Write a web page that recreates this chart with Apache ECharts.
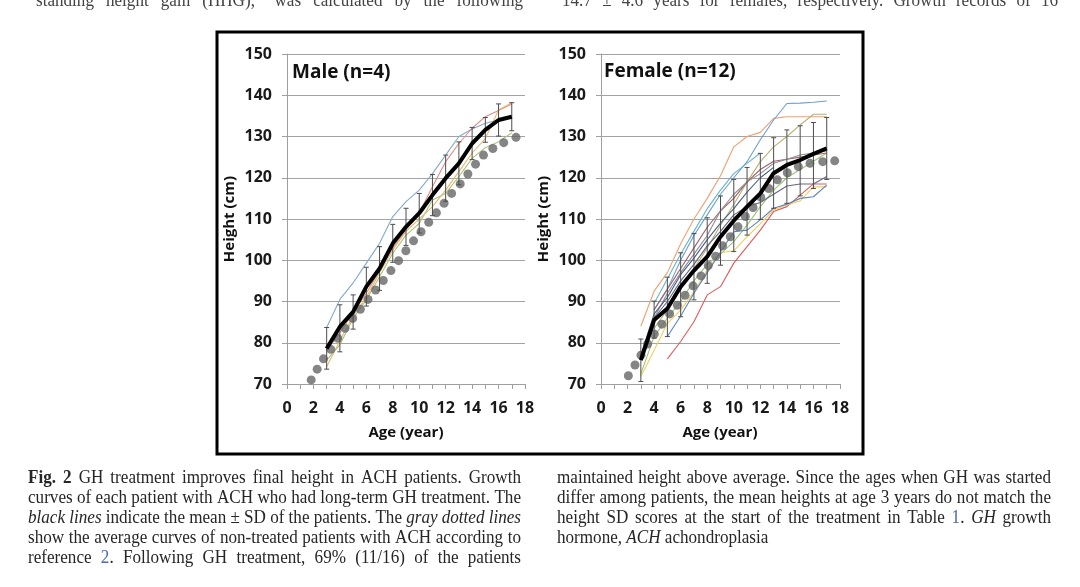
<!DOCTYPE html>
<html><head><meta charset="utf-8">
<script src="https://cdn.jsdelivr.net/npm/echarts@6/dist/echarts.min.js"></script>
<style>html,body{margin:0;padding:0;background:#fff}#c{width:1080px;height:587px}</style>
</head><body><div id="c"></div><script>
// ---------------- DATA ----------------
const ages = [3,4,5,6,7,8,9,10,11,12,13,14,15,16,17];
const xTickLabels = [0,2,4,6,8,10,12,14,16,18];
const yTickLabels = [70,80,90,100,110,120,130,140,150];

// Male (n=4)
const maleMean    = [78.6, 83.9, 87.5, 93.6, 98.0, 104.1, 108.1, 111.4, 115.8, 119.9, 123.5, 128.3, 131.6, 134.0, 134.8];
const maleSdUpper = [83.7, 89.2, 91.6, 98.3, 103.3, 108.7, 112.6, 116.2, 120.8, 125.5, 128.7, 132.2, 134.6, 137.9, 138.2];
const maleSdLower = [73.6, 77.8, 83.3, 88.9, 92.7, 99.5, 103.6, 106.6, 110.8, 114.3, 118.3, 124.4, 128.6, 130.1, 131.4];
const malePatientA = [83.7, 90.5, 94.5, 99.3, 104.1, 110.6, 114.2, 117.0, 121.0, 125.5, 130.0, 131.8, 133.2, 134.0, null];
const malePatientB = [78.0, 82.5, 87.2, 92.0, 97.5, 103.0, 107.5, 111.5, 117.8, 123.9, 128.3, 132.0, 134.8, 136.3, 137.9];
const malePatientC = [75.8, 79.5, 85.9, 90.4, 96.0, 101.7, 106.1, 108.9, 114.6, 116.2, 120.3, 124.7, 127.3, 128.7, 130.9];
const malePatientD = [74.2, 80.5, 86.5, 91.0, 97.0, 102.5, 107.0, 110.0, 113.0, 117.0, 121.5, 126.0, 129.5, 136.4, 138.2];
const maleRefAges    = [1.83, 2.28, 2.76, 3.31, 3.84, 4.39, 4.97, 5.55, 6.13, 6.70, 7.28, 7.86, 8.44, 8.99, 9.57, 10.14, 10.72, 11.30, 11.88, 12.45, 13.10, 13.68, 14.26, 14.86, 15.57, 16.39, 17.32];
const maleRefHeights = [71.0, 73.6, 76.1, 78.4, 81.1, 83.5, 85.9, 88.1, 90.5, 92.8, 95.1, 97.5, 99.9, 102.3, 104.7, 106.9, 109.2, 111.5, 113.8, 116.2, 118.5, 120.9, 123.3, 125.5, 127.1, 128.5, 129.8];

// Female (n=12)
const femaleMean    = [75.8, 85.5, 88.3, 93.6, 97.5, 100.9, 105.7, 109.6, 113.0, 116.2, 121.1, 123.1, 124.3, 125.8, 127.1];
const femaleSdUpper = [80.9, 90.1, 95.9, 101.8, 106.5, 110.3, 115.6, 119.6, 122.5, 125.9, 129.7, 131.6, 132.6, 133.4, 134.6];
const femaleSdLower = [70.6, 81.1, 81.5, 86.3, 90.4, 94.4, 98.8, 102.1, 106.1, 109.9, 112.6, 113.8, 115.6, 117.4, 119.6];
const femalePatient1  = [84.0, 92.5, 97.0, 104.0, 110.0, 115.0, 120.5, 127.5, 130.0, 131.0, 134.4, 134.8, 134.8, 134.8, 134.8];
const femalePatient2  = [null, 88.0, 93.0, 100.0, 106.0, 111.0, 116.0, 120.0, 123.9, 129.2, 134.0, 138.0, 138.1, 138.3, 138.6];
const femalePatient3  = [null, 83.5, 88.0, 93.0, 98.0, 103.0, 108.5, 113.5, 119.0, 123.9, 127.5, 130.0, 132.8, 135.4, 135.4];
const femalePatient4  = [null, null, 76.1, 80.3, 85.1, 91.6, 93.6, 99.3, 103.3, 107.3, 111.8, 113.0, 115.8, 118.5, 118.5];
const femalePatient5  = [71.8, 78.2, 84.7, 87.9, 92.4, 97.6, 101.8, 102.3, 105.7, 108.9, 112.2, 113.4, 114.4, 117.8, 117.8];
const femalePatient6  = [72.5, 81.5, 86.0, 90.0, 95.0, 99.0, 101.5, 104.5, 108.5, 113.0, 117.0, 120.0, 122.0, 124.0, 126.0];
const femalePatient7  = [null, null, 81.5, 86.5, 92.0, 97.0, 102.0, 106.9, 107.3, 109.8, 112.6, 113.6, 115.0, 115.4, 118.2];
const femalePatient8  = [null, 86.0, 90.0, 95.0, 99.0, 103.5, 107.0, 111.0, 113.0, 114.0, 116.0, 118.0, 118.5, 118.5, 120.3];
const femalePatient9  = [null, 88.0, 93.0, 98.0, 103.0, 108.0, 112.0, 115.0, 119.0, 122.0, 124.0, 124.5, 125.0, 125.5, 126.0];
const femalePatient10 = [null, 86.0, 92.0, 97.0, 101.5, 106.0, 112.0, 116.0, 119.0, 121.0, 123.5, 124.5, 125.5, 126.0, 126.5];
const femalePatient11 = [null, 89.5, 95.5, 101.5, 107.0, 112.5, 117.0, 121.0, 123.5, 126.0, null, null, null, null, null];
const femalePatient12 = [77.0, 87.0, 91.0, 96.5, 100.5, 105.0, 109.0, 112.5, 116.5, 120.0, 122.5, null, null, null, null];
const femaleRefAges    = [2.06, 2.56, 3.01, 3.51, 4.02, 4.59, 5.17, 5.75, 6.33, 6.93, 7.53, 8.08, 8.64, 9.16, 9.74, 10.32, 10.87, 11.45, 12.03, 12.63, 13.28, 14.03, 14.86, 15.74, 16.70, 17.60];
const femaleRefHeights = [72.0, 74.6, 77.0, 79.7, 82.1, 84.5, 87.0, 89.1, 91.5, 93.8, 96.2, 98.7, 101.0, 103.5, 105.7, 108.1, 110.6, 112.8, 115.3, 117.4, 119.5, 121.2, 122.7, 123.5, 123.9, 124.1];

// Texts
const maleTitle = 'Male (n=4)';
const femaleTitle = 'Female (n=12)';
const yAxisName = 'Height (cm)';
const xAxisName = 'Age (year)';
const captionLeft = [
  '*Fig. 2*  GH treatment improves final height in ACH patients. Growth',
  'curves of each patient with ACH who had long-term GH treatment. The',
  '_black lines_ indicate the mean ± SD of the patients. The _gray dotted lines_',
  'show the average curves of non-treated patients with ACH according to',
  'reference ^2^. Following GH treatment, 69% (11/16) of the patients'
];
const captionRight = [
  'maintained height above average. Since the ages when GH was started',
  'differ among patients, the mean heights at age 3 years do not match the',
  'height SD scores at the start of the treatment in Table ^1^. _GH_ growth',
  'hormone, _ACH_ achondroplasia'
];
const topLeftText = 'standing height gain (HHG),” was calculated by the following';
const topRightText = '14.7 ± 4.6 years for females, respectively. Growth records of 16';

// ---------------- BUILD ----------------
const SANS = '"Open Sans", "DejaVu Sans", sans-serif';
const SERIF = '"Liberation Serif", "Times New Roman", serif';
const maleColors = ['#86a9c9', '#e08a8a', '#aac47e', '#e6b872'];
const femaleColors = ['#f0a070','#6c9fd2','#b9b276','#e05a5a','#f0cf60','#9cc57a','#5a84c0','#676784','#a0606e','#8e8e8e','#6ab3c6','#4a5f8e'];

const pair = (xs, ys) => xs.map((x, i) => [x, ys[i]]);

function axesFor(gi) {
  return {
    x: {
      type: 'value', gridIndex: gi, min: 0, max: 18, interval: 1,
      axisLine: { show: true, lineStyle: { color: '#9f9f9f', width: 1 } },
      axisTick: { show: true, length: 5, inside: false, lineStyle: { color: '#9f9f9f' } },
      axisLabel: { show: true, margin: 16, color: '#1a1a1a', fontFamily: SANS, fontWeight: 'bold', fontSize: 16,
        formatter: v => xTickLabels.indexOf(v) >= 0 ? String(v) : '' },
      splitLine: { show: false }
    },
    y: {
      type: 'value', gridIndex: gi, min: 70, max: 150, interval: 10,
      axisLine: { show: true, lineStyle: { color: '#9f9f9f', width: 1 } },
      axisTick: { show: true, length: 5, inside: false, lineStyle: { color: '#9f9f9f' } },
      axisLabel: { show: true, margin: 15, color: '#1a1a1a', fontFamily: SANS, fontWeight: 'bold', fontSize: 16,
        formatter: v => yTickLabels.indexOf(v) >= 0 ? String(v) : '' },
      splitLine: { show: true, lineStyle: { color: '#a3a3a3', width: 1 } }
    }
  };
}
const a0 = axesFor(0), a1 = axesFor(1);

function patientSeries(arr, color, gi) {
  return { type: 'line', xAxisIndex: gi, yAxisIndex: gi, data: pair(ages, arr), symbol: 'none',
    lineStyle: { color: color, width: 1.1 }, z: 2, silent: true, connectNulls: false, animation: false };
}
function refSeries(xs, ys, gi) {
  return { type: 'scatter', xAxisIndex: gi, yAxisIndex: gi, data: pair(xs, ys), symbol: 'circle', symbolSize: 9,
    itemStyle: { color: '#676767' }, z: 3, silent: true, animation: false };
}
function errSeries(lo, hi, gi) {
  return { type: 'custom', xAxisIndex: gi, yAxisIndex: gi, z: 4, silent: true, animation: false,
    data: ages.map((a, i) => [a, lo[i], hi[i]]),
    encode: { x: 0, y: [1, 2] },
    renderItem: (params, api) => {
      const x = api.value(0);
      const pHi = api.coord([x, api.value(2)]);
      const pLo = api.coord([x, api.value(1)]);
      const st = { stroke: '#4d4d4d', lineWidth: 1 };
      const hw = 2.5;
      return { type: 'group', children: [
        { type: 'line', shape: { x1: pHi[0], y1: pHi[1], x2: pLo[0], y2: pLo[1] }, style: st },
        { type: 'line', shape: { x1: pHi[0]-hw, y1: pHi[1], x2: pHi[0]+hw, y2: pHi[1] }, style: st },
        { type: 'line', shape: { x1: pLo[0]-hw, y1: pLo[1], x2: pLo[0]+hw, y2: pLo[1] }, style: st }
      ]};
    }
  };
}
function meanSeries(arr, gi) {
  return { type: 'line', xAxisIndex: gi, yAxisIndex: gi, data: pair(ages, arr), symbol: 'none',
    lineStyle: { color: '#000', width: 4 }, z: 5, silent: true, animation: false };
}

const series = [];
[malePatientA, malePatientB, malePatientC, malePatientD].forEach((p, i) => series.push(patientSeries(p, maleColors[i], 0)));
[femalePatient1, femalePatient2, femalePatient3, femalePatient4, femalePatient5, femalePatient6,
 femalePatient7, femalePatient8, femalePatient9, femalePatient10, femalePatient11, femalePatient12]
  .forEach((p, i) => series.push(patientSeries(p, femaleColors[i], 1)));
series.push(refSeries(maleRefAges, maleRefHeights, 0));
series.push(refSeries(femaleRefAges, femaleRefHeights, 1));
series.push(errSeries(maleSdLower, maleSdUpper, 0));
series.push(errSeries(femaleSdLower, femaleSdUpper, 1));
series.push(meanSeries(maleMean, 0));
series.push(meanSeries(femaleMean, 1));

// --- caption text layout (justified, word by word, slightly condensed serif) ---
const mctx = document.createElement('canvas').getContext('2d');
const CS = 18;        // caption font size
const SX = 0.95;      // horizontal condensing of the scanned serif
function parseLine(s) {
  const words = []; let cur = []; let st = { i: false, b: false, l: false }; let buf = '';
  const flush = () => { if (buf) { cur.push({ t: buf, i: st.i, b: st.b, l: st.l }); buf = ''; } };
  for (const ch of s) {
    if (ch === '_') { flush(); st = { ...st, i: !st.i }; }
    else if (ch === '*') { flush(); st = { ...st, b: !st.b }; }
    else if (ch === '^') { flush(); st = { ...st, l: !st.l }; }
    else if (ch === ' ') { flush(); if (cur.length) { words.push(cur); cur = []; } }
    else buf += ch;
  }
  flush(); if (cur.length) words.push(cur);
  return words;
}
const fontStr = (p, size) => (p.i ? 'italic ' : '') + (p.b ? 'bold ' : '') + size + 'px ' + SERIF;
function layoutLine(s, x0, x1, y, justify, size, fill) {
  const words = parseLine(s);
  let sx = SX;
  words.forEach(w => { w.forEach(p => { mctx.font = fontStr(p, size); p.w0 = mctx.measureText(p.t).width; }); });
  mctx.font = fontStr({}, size); const sp0 = mctx.measureText(' ').width;
  const n = words.length;
  const raw = words.reduce((a, w) => a + w.reduce((b, p) => b + p.w0, 0), 0);
  if (justify && n > 1) {
    const minGap = sp0 * SX * 0.75;
    if (raw * sx + (n - 1) * minGap > (x1 - x0)) sx = ((x1 - x0) - (n - 1) * minGap) / raw;
  }
  words.forEach(w => { w.forEach(p => { p.w = p.w0 * sx; }); w.w = w.reduce((a, p) => a + p.w, 0); });
  const total = words.reduce((a, w) => a + w.w, 0);
  const gap = (justify && n > 1) ? (x1 - x0 - total) / (n - 1) : sp0 * sx;
  let x = x0; const out = [];
  words.forEach(w => {
    w.forEach(p => {
      out.push({ type: 'text', x: x, y: y, scaleX: sx, scaleY: 1, silent: true, style: {
        text: p.t, fontFamily: SERIF, fontSize: size, fontStyle: p.i ? 'italic' : 'normal',
        fontWeight: p.b ? 'bold' : 'normal', fill: p.l ? '#4a68b0' : (fill || '#262626'),
        textAlign: 'left', textVerticalAlign: 'middle' } });
      x += p.w;
    });
    x += gap;
  });
  return out;
}

const graphics = [];
graphics.push({ type: 'rect', shape: { x: 217, y: 32, width: 646, height: 422 }, style: { fill: 'none', stroke: '#000', lineWidth: 3 }, silent: true, z: 10 });
graphics.push({ type: 'text', x: 292, y: 73, silent: true, style: { text: maleTitle, fontFamily: SANS, fontWeight: 'bold', fontSize: 19, fill: '#111', textVerticalAlign: 'middle' } });
graphics.push({ type: 'text', x: 604, y: 72, silent: true, style: { text: femaleTitle, fontFamily: SANS, fontWeight: 'bold', fontSize: 19, fill: '#111', textVerticalAlign: 'middle' } });
[[230, 219], [544, 219]].forEach(([x, y]) => graphics.push({ type: 'text', x: x, y: y, rotation: Math.PI / 2, silent: true,
  style: { text: yAxisName, fontFamily: SANS, fontWeight: 'bold', fontSize: 15, fill: '#111', textAlign: 'center', textVerticalAlign: 'middle' } }));
[[406, 433], [720, 433]].forEach(([x, y]) => graphics.push({ type: 'text', x: x, y: y, silent: true,
  style: { text: xAxisName, fontFamily: SANS, fontWeight: 'bold', fontSize: 15, fill: '#111', textAlign: 'center', textVerticalAlign: 'middle' } }));

captionLeft.forEach((s, i) => graphics.push(...layoutLine(s, 28, 521, 478 + i * 20, true, CS)));
captionRight.forEach((s, i) => graphics.push(...layoutLine(s, 557, 1051, 478 + i * 20, i < captionRight.length - 1, CS)));
graphics.push(...layoutLine(topLeftText, 36, 523, 1, true, CS, '#444'));
graphics.push(...layoutLine(topRightText, 562, 1058, 1, true, CS, '#444'));

const chart = echarts.init(document.getElementById('c'), null, { renderer: 'canvas' });
chart.setOption({
  backgroundColor: '#fff',
  animation: false,
  grid: [
    { left: 287, right: 555, top: 54, bottom: 203, containLabel: false },
    { left: 601, right: 240, top: 54, bottom: 203, containLabel: false }
  ],
  xAxis: [a0.x, a1.x],
  yAxis: [a0.y, a1.y],
  series: series,
  graphic: graphics
});
</script></body></html>
